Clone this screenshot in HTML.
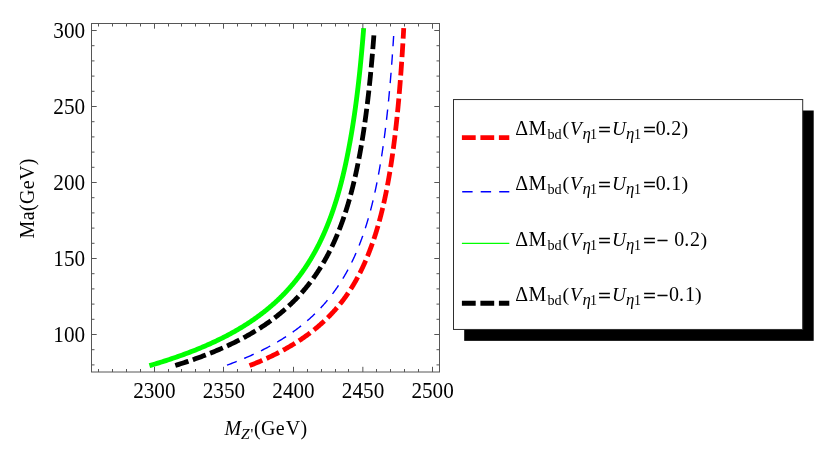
<!DOCTYPE html>
<html><head><meta charset="utf-8"><title>plot</title>
<style>html,body{margin:0;padding:0;background:#fff}body{width:830px;height:455px;overflow:hidden;font-family:"Liberation Serif",serif}</style></head>
<body>
<svg width="830" height="455" viewBox="0 0 830 455" style="display:block;will-change:transform">
<rect x="0" y="0" width="830" height="455" fill="#fff"/>
<path d="M149.42 365.65 L151.35 365.09 L153.25 364.53 L155.14 363.96 L157.00 363.40 L158.83 362.84 L160.65 362.27 L162.44 361.71 L164.22 361.15 L165.97 360.58 L167.70 360.02 L169.41 359.46 L171.11 358.90 L172.78 358.33 L174.44 357.77 L176.07 357.21 L177.69 356.64 L179.29 356.08 L180.87 355.52 L182.43 354.95 L183.97 354.39 L185.50 353.83 L187.01 353.26 L188.51 352.70 L189.98 352.14 L191.45 351.57 L192.89 351.01 L194.32 350.45 L195.73 349.88 L197.13 349.32 L198.51 348.76 L199.88 348.19 L201.24 347.63 L202.57 347.07 L203.90 346.50 L205.21 345.94 L206.51 345.38 L207.79 344.81 L209.06 344.25 L210.31 343.69 L211.56 343.12 L212.78 342.56 L214.00 341.99 L215.20 341.43 L216.40 340.87 L217.58 340.30 L218.74 339.74 L219.90 339.18 L221.04 338.61 L222.17 338.05 L223.29 337.49 L224.40 336.92 L225.50 336.36 L226.58 335.79 L227.66 335.23 L228.72 334.67 L229.78 334.10 L230.82 333.54 L231.85 332.97 L232.87 332.41 L233.89 331.85 L234.89 331.28 L235.88 330.72 L236.86 330.15 L237.84 329.59 L238.80 329.02 L239.75 328.46 L240.70 327.89 L241.63 327.33 L242.56 326.76 L243.47 326.19 L244.38 325.63 L245.28 325.06 L246.17 324.50 L247.06 323.93 L247.93 323.37 L248.80 322.80 L249.65 322.24 L250.50 321.67 L251.34 321.10 L252.18 320.54 L253.00 319.97 L253.82 319.41 L254.63 318.84 L255.44 318.28 L256.23 317.71 L257.02 317.14 L257.80 316.58 L258.58 316.01 L259.34 315.45 L260.10 314.88 L260.86 314.32 L261.60 313.75 L262.34 313.18 L263.07 312.62 L263.80 312.05 L264.52 311.49 L265.23 310.92 L265.94 310.36 L266.64 309.79 L267.34 309.22 L268.02 308.66 L268.71 308.09 L269.38 307.53 L270.05 306.96 L270.72 306.40 L271.38 305.83 L272.03 305.26 L272.68 304.70 L273.32 304.13 L273.96 303.57 L274.59 303.00 L275.21 302.44 L275.83 301.87 L276.45 301.30 L277.06 300.74 L277.66 300.17 L278.26 299.61 L278.85 299.04 L279.44 298.47 L280.02 297.91 L280.60 297.34 L281.18 296.78 L281.75 296.21 L282.31 295.64 L282.87 295.08 L283.42 294.51 L283.97 293.95 L284.52 293.38 L285.06 292.81 L285.60 292.25 L286.13 291.68 L286.66 291.12 L287.18 290.55 L287.70 289.98 L288.22 289.42 L288.73 288.85 L289.24 288.29 L289.74 287.72 L290.24 287.16 L290.73 286.59 L291.22 286.02 L291.71 285.46 L292.19 284.89 L292.67 284.33 L293.15 283.76 L293.62 283.19 L294.09 282.63 L294.55 282.06 L295.01 281.50 L295.47 280.93 L295.92 280.37 L296.37 279.80 L296.82 279.24 L297.26 278.67 L297.70 278.10 L298.14 277.54 L298.57 276.97 L299.00 276.41 L299.43 275.84 L299.85 275.28 L300.27 274.71 L300.69 274.15 L301.10 273.58 L301.51 273.01 L301.92 272.45 L302.32 271.88 L302.72 271.32 L303.12 270.75 L303.52 270.19 L303.91 269.62 L304.30 269.06 L304.68 268.49 L305.07 267.93 L305.45 267.36 L305.82 266.80 L306.20 266.23 L306.57 265.67 L306.94 265.10 L307.31 264.54 L307.67 263.97 L308.03 263.41 L308.39 262.84 L308.75 262.28 L309.10 261.71 L309.45 261.15 L309.80 260.58 L310.15 260.02 L310.49 259.45 L310.83 258.89 L311.17 258.32 L311.51 257.76 L311.84 257.19 L312.17 256.63 L312.50 256.06 L312.83 255.50 L313.15 254.93 L313.47 254.37 L313.79 253.80 L314.11 253.24 L314.43 252.67 L314.74 252.11 L315.05 251.54 L315.36 250.98 L315.67 250.41 L315.97 249.85 L316.27 249.28 L316.57 248.72 L316.87 248.15 L317.17 247.59 L317.46 247.03 L317.75 246.46 L318.04 245.90 L318.33 245.33 L318.62 244.77 L318.90 244.20 L319.19 243.64 L319.47 243.07 L319.75 242.51 L320.02 241.94 L320.30 241.38 L320.57 240.82 L320.84 240.25 L321.11 239.69 L321.38 239.12 L321.64 238.56 L321.91 237.99 L322.17 237.43 L322.43 236.87 L322.69 236.30 L322.95 235.74 L323.20 235.17 L323.46 234.61 L323.71 234.04 L323.96 233.48 L324.21 232.92 L324.45 232.35 L324.70 231.79 L324.94 231.22 L325.19 230.66 L325.43 230.10 L325.67 229.53 L325.90 228.97 L326.14 228.40 L326.38 227.84 L326.61 227.27 L326.84 226.71 L327.07 226.15 L327.30 225.58 L327.53 225.02 L327.75 224.45 L327.98 223.89 L328.20 223.33 L328.42 222.76 L328.64 222.20 L328.86 221.64 L329.08 221.07 L329.30 220.51 L329.51 219.94 L329.72 219.38 L329.94 218.82 L330.15 218.25 L330.36 217.69 L330.57 217.12 L330.77 216.56 L330.98 216.00 L331.18 215.43 L331.39 214.87 L331.59 214.31 L331.79 213.74 L331.99 213.18 L332.19 212.61 L332.38 212.05 L332.58 211.49 L332.77 210.92 L332.97 210.36 L333.16 209.80 L333.35 209.23 L333.54 208.67 L333.73 208.11 L333.92 207.54 L334.11 206.98 L334.29 206.42 L334.48 205.85 L334.66 205.29 L334.84 204.72 L335.02 204.16 L335.20 203.60 L335.38 203.03 L335.56 202.47 L335.74 201.91 L335.91 201.34 L336.09 200.78 L336.26 200.22 L336.44 199.65 L336.61 199.09 L336.78 198.53 L336.95 197.96 L337.12 197.40 L337.29 196.84 L337.45 196.27 L337.62 195.71 L337.78 195.15 L337.95 194.58 L338.11 194.02 L338.27 193.46 L338.43 192.89 L338.60 192.33 L338.76 191.77 L338.91 191.20 L339.07 190.64 L339.23 190.08 L339.38 189.51 L339.54 188.95 L339.69 188.39 L339.85 187.82 L340.00 187.26 L340.15 186.70 L340.30 186.14 L340.45 185.57 L340.60 185.01 L340.75 184.45 L340.90 183.88 L341.04 183.32 L341.19 182.76 L341.33 182.19 L341.48 181.63 L341.62 181.07 L341.76 180.50 L341.91 179.94 L342.05 179.38 L342.19 178.81 L342.33 178.25 L342.47 177.69 L342.60 177.13 L342.74 176.56 L342.88 176.00 L343.01 175.44 L343.15 174.87 L343.28 174.31 L343.42 173.75 L343.55 173.18 L343.68 172.62 L343.81 172.06 L343.95 171.50 L344.08 170.93 L344.20 170.37 L344.33 169.81 L344.46 169.24 L344.59 168.68 L344.72 168.12 L344.84 167.55 L344.97 166.99 L345.09 166.43 L345.22 165.87 L345.34 165.30 L345.46 164.74 L345.58 164.18 L345.71 163.61 L345.83 163.05 L345.95 162.49 L346.07 161.93 L346.18 161.36 L346.30 160.80 L346.42 160.24 L346.54 159.67 L346.65 159.11 L346.77 158.55 L346.89 157.99 L347.00 157.42 L347.11 156.86 L347.23 156.30 L347.34 155.73 L347.45 155.17 L347.57 154.61 L347.68 154.05 L347.79 153.48 L347.90 152.92 L348.01 152.36 L348.12 151.80 L348.22 151.23 L348.33 150.67 L348.44 150.11 L348.55 149.54 L348.66 148.98 L348.77 148.42 L348.87 147.86 L348.98 147.30 L349.09 146.73 L349.19 146.17 L349.30 145.61 L349.40 145.05 L349.51 144.48 L349.61 143.92 L349.72 143.36 L349.82 142.80 L349.92 142.24 L350.03 141.67 L350.13 141.11 L350.23 140.55 L350.33 139.99 L350.43 139.42 L350.53 138.86 L350.63 138.30 L350.73 137.74 L350.83 137.18 L350.92 136.61 L351.02 136.05 L351.12 135.49 L351.22 134.93 L351.31 134.36 L351.41 133.80 L351.50 133.24 L351.60 132.68 L351.69 132.11 L351.79 131.55 L351.88 130.99 L351.97 130.43 L352.06 129.87 L352.16 129.30 L352.25 128.74 L352.34 128.18 L352.43 127.62 L352.52 127.05 L352.61 126.49 L352.70 125.93 L352.79 125.37 L352.88 124.81 L352.97 124.24 L353.05 123.68 L353.14 123.12 L353.23 122.56 L353.32 121.99 L353.40 121.43 L353.49 120.87 L353.57 120.31 L353.66 119.75 L353.74 119.18 L353.83 118.62 L353.91 118.06 L354.00 117.50 L354.08 116.93 L354.16 116.37 L354.25 115.81 L354.33 115.25 L354.41 114.69 L354.49 114.12 L354.57 113.56 L354.65 113.00 L354.73 112.44 L354.81 111.87 L354.89 111.31 L354.97 110.75 L355.05 110.19 L355.13 109.63 L355.21 109.06 L355.29 108.50 L355.36 107.94 L355.44 107.38 L355.52 106.81 L355.59 106.25 L355.67 105.69 L355.75 105.13 L355.82 104.57 L355.90 104.00 L355.97 103.44 L356.05 102.88 L356.12 102.32 L356.20 101.75 L356.27 101.19 L356.34 100.63 L356.42 100.07 L356.49 99.50 L356.56 98.94 L356.63 98.38 L356.70 97.82 L356.78 97.26 L356.85 96.69 L356.92 96.13 L356.99 95.57 L357.06 95.01 L357.13 94.44 L357.20 93.88 L357.27 93.32 L357.34 92.76 L357.41 92.20 L357.47 91.63 L357.54 91.07 L357.61 90.51 L357.68 89.95 L357.75 89.38 L357.81 88.82 L357.88 88.26 L357.95 87.70 L358.01 87.14 L358.08 86.57 L358.14 86.01 L358.21 85.45 L358.27 84.89 L358.34 84.32 L358.40 83.76 L358.47 83.20 L358.53 82.64 L358.60 82.08 L358.66 81.51 L358.72 80.95 L358.79 80.39 L358.85 79.83 L358.91 79.26 L358.97 78.70 L359.04 78.14 L359.10 77.58 L359.16 77.02 L359.22 76.45 L359.28 75.89 L359.34 75.33 L359.40 74.77 L359.46 74.20 L359.52 73.64 L359.58 73.08 L359.64 72.52 L359.70 71.95 L359.76 71.39 L359.82 70.83 L359.88 70.27 L359.94 69.71 L360.00 69.14 L360.05 68.58 L360.11 68.02 L360.17 67.46 L360.23 66.89 L360.28 66.33 L360.34 65.77 L360.40 65.21 L360.45 64.65 L360.51 64.08 L360.56 63.52 L360.62 62.96 L360.68 62.40 L360.73 61.83 L360.79 61.27 L360.84 60.71 L360.89 60.15 L360.95 59.59 L361.00 59.02 L361.06 58.46 L361.11 57.90 L361.16 57.34 L361.22 56.77 L361.27 56.21 L361.32 55.65 L361.38 55.09 L361.43 54.53 L361.48 53.96 L361.53 53.40 L361.59 52.84 L361.64 52.28 L361.69 51.71 L361.74 51.15 L361.79 50.59 L361.84 50.03 L361.89 49.47 L361.94 48.90 L361.99 48.34 L362.04 47.78 L362.09 47.22 L362.14 46.65 L362.19 46.09 L362.24 45.53 L362.29 44.97 L362.34 44.41 L362.39 43.84 L362.44 43.28 L362.49 42.72 L362.53 42.16 L362.58 41.59 L362.63 41.03 L362.68 40.47 L362.73 39.91 L362.77 39.34 L362.82 38.78 L362.87 38.22 L362.91 37.66 L362.96 37.10 L363.01 36.53 L363.05 35.97 L363.10 35.41 L363.15 34.85 L363.19 34.28 L363.24 33.72 L363.28 33.16 L363.33 32.60 L363.37 32.04 L363.42 31.47 L363.46 30.91 L363.51 30.35 L363.55 29.79 L363.60 29.22 L363.64 28.66 L363.69 28.10" fill="none" stroke="#00ff00" stroke-width="4.85"/>
<path d="M175.30 365.46 L177.07 364.91 L178.83 364.36 L180.56 363.81 L182.27 363.26 L183.96 362.71 L185.63 362.15 L187.28 361.60 L188.91 361.05 L190.53 360.50 L192.12 359.95 L193.70 359.40 L195.26 358.84 L196.80 358.29 L198.32 357.74 L199.83 357.19 L201.31 356.64 L202.78 356.09 L204.24 355.53 L205.68 354.98 L207.10 354.43 L208.51 353.88 L209.90 353.33 L211.27 352.78 L212.63 352.22 L213.98 351.67 L215.31 351.12 L216.62 350.57 L217.93 350.02 L219.21 349.47 L220.49 348.91 L221.75 348.36 L222.99 347.81 L224.23 347.26 L225.44 346.71 L226.65 346.16 L227.84 345.60 L229.03 345.05 L230.19 344.50 L231.35 343.95 L232.49 343.40 L233.63 342.85 L234.75 342.29 L235.86 341.74 L236.95 341.19 L238.04 340.64 L239.11 340.09 L240.18 339.54 L241.23 338.98 L242.27 338.43 L243.30 337.88 L244.32 337.33 L245.33 336.78 L246.33 336.23 L247.32 335.67 L248.30 335.12 L249.27 334.57 L250.24 334.02 L251.19 333.47 L252.13 332.91 L253.06 332.36 L253.98 331.81 L254.90 331.26 L255.80 330.71 L256.70 330.16 L257.59 329.60 L258.47 329.05 L259.34 328.50 L260.20 327.95 L261.05 327.40 L261.90 326.85 L262.74 326.29 L263.57 325.74 L264.39 325.19 L265.20 324.64 L266.01 324.09 L266.81 323.54 L267.60 322.98 L268.38 322.43 L269.16 321.88 L269.93 321.33 L270.69 320.78 L271.45 320.23 L272.20 319.67 L272.94 319.12 L273.67 318.57 L274.40 318.02 L275.12 317.47 L275.83 316.92 L276.54 316.36 L277.24 315.81 L277.94 315.26 L278.63 314.71 L279.31 314.16 L279.99 313.61 L280.66 313.05 L281.32 312.50 L281.98 311.95 L282.64 311.40 L283.28 310.85 L283.92 310.30 L284.56 309.74 L285.19 309.19 L285.82 308.64 L286.44 308.09 L287.05 307.54 L287.66 306.99 L288.26 306.43 L288.86 305.88 L289.45 305.33 L290.04 304.78 L290.62 304.23 L291.20 303.68 L291.78 303.12 L292.34 302.57 L292.91 302.02 L293.47 301.47 L294.02 300.92 L294.57 300.37 L295.11 299.81 L295.65 299.26 L296.19 298.71 L296.72 298.16 L297.25 297.61 L297.77 297.05 L298.29 296.50 L298.80 295.95 L299.31 295.40 L299.82 294.85 L300.32 294.30 L300.82 293.74 L301.31 293.19 L301.80 292.64 L302.29 292.09 L302.77 291.54 L303.24 290.99 L303.72 290.43 L304.19 289.88 L304.65 289.33 L305.12 288.78 L305.58 288.23 L306.03 287.68 L306.48 287.12 L306.93 286.57 L307.38 286.02 L307.82 285.47 L308.25 284.92 L308.69 284.37 L309.12 283.81 L309.55 283.26 L309.97 282.71 L310.39 282.16 L310.81 281.61 L311.23 281.06 L311.64 280.50 L312.05 279.95 L312.45 279.40 L312.85 278.85 L313.25 278.30 L313.65 277.75 L314.04 277.19 L314.43 276.64 L314.82 276.09 L315.20 275.54 L315.58 274.99 L315.96 274.44 L316.34 273.88 L316.71 273.33 L317.08 272.78 L317.45 272.23 L317.81 271.68 L318.17 271.13 L318.53 270.57 L318.89 270.02 L319.24 269.47 L319.60 268.92 L319.95 268.37 L320.29 267.82 L320.64 267.26 L320.98 266.71 L321.32 266.16 L321.65 265.61 L321.99 265.06 L322.32 264.50 L322.65 263.95 L322.97 263.40 L323.30 262.85 L323.62 262.30 L323.94 261.75 L324.26 261.19 L324.58 260.64 L324.89 260.09 L325.20 259.54 L325.51 258.99 L325.82 258.44 L326.12 257.88 L326.42 257.33 L326.72 256.78 L327.02 256.23 L327.32 255.68 L327.61 255.13 L327.91 254.57 L328.20 254.02 L328.48 253.47 L328.77 252.92 L329.06 252.37 L329.34 251.82 L329.62 251.26 L329.90 250.71 L330.17 250.16 L330.45 249.61 L330.72 249.06 L330.99 248.51 L331.26 247.95 L331.53 247.40 L331.80 246.85 L332.06 246.30 L332.32 245.75 L332.58 245.20 L332.84 244.64 L333.10 244.09 L333.36 243.54 L333.61 242.99 L333.86 242.44 L334.11 241.89 L334.36 241.33 L334.61 240.78 L334.85 240.23 L335.10 239.68 L335.34 239.13 L335.58 238.58 L335.82 238.02 L336.06 237.47 L336.29 236.92 L336.53 236.37 L336.76 235.82 L336.99 235.27 L337.22 234.71 L337.45 234.16 L337.68 233.61 L337.91 233.06 L338.13 232.51 L338.35 231.95 L338.58 231.40 L338.80 230.85 L339.02 230.30 L339.23 229.75 L339.45 229.20 L339.66 228.64 L339.88 228.09 L340.09 227.54 L340.30 226.99 L340.51 226.44 L340.72 225.89 L340.93 225.33 L341.13 224.78 L341.34 224.23 L341.54 223.68 L341.74 223.13 L341.94 222.58 L342.14 222.02 L342.34 221.47 L342.54 220.92 L342.73 220.37 L342.93 219.82 L343.12 219.27 L343.31 218.71 L343.51 218.16 L343.70 217.61 L343.89 217.06 L344.07 216.51 L344.26 215.96 L344.45 215.40 L344.63 214.85 L344.81 214.30 L345.00 213.75 L345.18 213.20 L345.36 212.65 L345.54 212.09 L345.71 211.54 L345.89 210.99 L346.07 210.44 L346.24 209.89 L346.42 209.34 L346.59 208.78 L346.76 208.23 L346.93 207.68 L347.10 207.13 L347.27 206.58 L347.44 206.03 L347.61 205.47 L347.77 204.92 L347.94 204.37 L348.10 203.82 L348.27 203.27 L348.43 202.72 L348.59 202.16 L348.75 201.61 L348.91 201.06 L349.07 200.51 L349.23 199.96 L349.38 199.40 L349.54 198.85 L349.70 198.30 L349.85 197.75 L350.00 197.20 L350.16 196.65 L350.31 196.09 L350.46 195.54 L350.61 194.99 L350.76 194.44 L350.91 193.89 L351.05 193.34 L351.20 192.78 L351.35 192.23 L351.49 191.68 L351.64 191.13 L351.78 190.58 L351.92 190.03 L352.07 189.47 L352.21 188.92 L352.35 188.37 L352.49 187.82 L352.63 187.27 L352.76 186.72 L352.90 186.16 L353.04 185.61 L353.18 185.06 L353.31 184.51 L353.45 183.96 L353.58 183.41 L353.71 182.85 L353.84 182.30 L353.98 181.75 L354.11 181.20 L354.24 180.65 L354.37 180.10 L354.50 179.54 L354.62 178.99 L354.75 178.44 L354.88 177.89 L355.01 177.34 L355.13 176.79 L355.26 176.23 L355.38 175.68 L355.50 175.13 L355.63 174.58 L355.75 174.03 L355.87 173.48 L355.99 172.92 L356.11 172.37 L356.23 171.82 L356.35 171.27 L356.47 170.72 L356.59 170.17 L356.71 169.61 L356.82 169.06 L356.94 168.51 L357.06 167.96 L357.17 167.41 L357.29 166.85 L357.40 166.30 L357.51 165.75 L357.63 165.20 L357.74 164.65 L357.85 164.10 L357.96 163.54 L358.07 162.99 L358.18 162.44 L358.29 161.89 L358.40 161.34 L358.51 160.79 L358.62 160.23 L358.72 159.68 L358.83 159.13 L358.94 158.58 L359.04 158.03 L359.15 157.48 L359.25 156.92 L359.36 156.37 L359.46 155.82 L359.56 155.27 L359.66 154.72 L359.77 154.17 L359.87 153.61 L359.97 153.06 L360.07 152.51 L360.17 151.96 L360.27 151.41 L360.37 150.86 L360.47 150.30 L360.57 149.75 L360.66 149.20 L360.76 148.65 L360.86 148.10 L360.95 147.55 L361.05 146.99 L361.15 146.44 L361.24 145.89 L361.33 145.34 L361.43 144.79 L361.52 144.24 L361.62 143.68 L361.71 143.13 L361.80 142.58 L361.89 142.03 L361.98 141.48 L362.07 140.93 L362.17 140.37 L362.26 139.82 L362.35 139.27 L362.43 138.72 L362.52 138.17 L362.61 137.62 L362.70 137.06 L362.79 136.51 L362.87 135.96 L362.96 135.41 L363.05 134.86 L363.13 134.30 L363.22 133.75 L363.31 133.20 L363.39 132.65 L363.47 132.10 L363.56 131.55 L363.64 130.99 L363.73 130.44 L363.81 129.89 L363.89 129.34 L363.97 128.79 L364.05 128.24 L364.14 127.68 L364.22 127.13 L364.30 126.58 L364.38 126.03 L364.46 125.48 L364.54 124.93 L364.62 124.37 L364.70 123.82 L364.77 123.27 L364.85 122.72 L364.93 122.17 L365.01 121.62 L365.09 121.06 L365.16 120.51 L365.24 119.96 L365.31 119.41 L365.39 118.86 L365.47 118.31 L365.54 117.75 L365.62 117.20 L365.69 116.65 L365.76 116.10 L365.84 115.55 L365.91 115.00 L365.98 114.44 L366.06 113.89 L366.13 113.34 L366.20 112.79 L366.27 112.24 L366.35 111.69 L366.42 111.13 L366.49 110.58 L366.56 110.03 L366.63 109.48 L366.70 108.93 L366.77 108.38 L366.84 107.82 L366.91 107.27 L366.98 106.72 L367.04 106.17 L367.11 105.62 L367.18 105.07 L367.25 104.51 L367.32 103.96 L367.38 103.41 L367.45 102.86 L367.52 102.31 L367.58 101.76 L367.65 101.20 L367.71 100.65 L367.78 100.10 L367.84 99.55 L367.91 99.00 L367.97 98.44 L368.04 97.89 L368.10 97.34 L368.17 96.79 L368.23 96.24 L368.29 95.69 L368.36 95.13 L368.42 94.58 L368.48 94.03 L368.54 93.48 L368.61 92.93 L368.67 92.38 L368.73 91.82 L368.79 91.27 L368.85 90.72 L368.91 90.17 L368.97 89.62 L369.03 89.07 L369.09 88.51 L369.15 87.96 L369.21 87.41 L369.27 86.86 L369.33 86.31 L369.39 85.76 L369.45 85.20 L369.50 84.65 L369.56 84.10 L369.62 83.55 L369.68 83.00 L369.73 82.45 L369.79 81.89 L369.85 81.34 L369.91 80.79 L369.96 80.24 L370.02 79.69 L370.07 79.14 L370.13 78.58 L370.18 78.03 L370.24 77.48 L370.29 76.93 L370.35 76.38 L370.40 75.83 L370.46 75.27 L370.51 74.72 L370.57 74.17 L370.62 73.62 L370.67 73.07 L370.73 72.52 L370.78 71.96 L370.83 71.41 L370.89 70.86 L370.94 70.31 L370.99 69.76 L371.04 69.21 L371.09 68.65 L371.15 68.10 L371.20 67.55 L371.25 67.00 L371.30 66.45 L371.35 65.89 L371.40 65.34 L371.45 64.79 L371.50 64.24 L371.55 63.69 L371.60 63.14 L371.65 62.58 L371.70 62.03 L371.75 61.48 L371.80 60.93 L371.85 60.38 L371.90 59.83 L371.95 59.27 L371.99 58.72 L372.04 58.17 L372.09 57.62 L372.14 57.07 L372.19 56.52 L372.23 55.96 L372.28 55.41 L372.33 54.86 L372.37 54.31 L372.42 53.76 L372.47 53.21 L372.51 52.65 L372.56 52.10 L372.61 51.55 L372.65 51.00 L372.70 50.45 L372.74 49.90 L372.79 49.34 L372.83 48.79 L372.88 48.24 L372.92 47.69 L372.97 47.14 L373.01 46.59 L373.06 46.03 L373.10 45.48 L373.15 44.93 L373.19 44.38 L373.23 43.83 L373.28 43.28 L373.32 42.72 L373.36 42.17 L373.41 41.62 L373.45 41.07 L373.49 40.52 L373.54 39.97 L373.58 39.41 L373.62 38.86 L373.66 38.31 L373.70 37.76 L373.75 37.21 L373.79 36.66 L373.83 36.10 L373.87 35.55 L373.91 35.00" fill="none" stroke="#000000" stroke-width="4.8" stroke-dasharray="13.8 4.645"/>
<path d="M227.00 365.15 L228.50 364.60 L229.99 364.05 L231.46 363.50 L232.90 362.95 L234.34 362.40 L235.75 361.85 L237.15 361.30 L238.53 360.75 L239.90 360.20 L241.25 359.65 L242.58 359.10 L243.90 358.55 L245.20 358.00 L246.49 357.45 L247.76 356.90 L249.02 356.35 L250.26 355.80 L251.49 355.25 L252.71 354.70 L253.91 354.15 L255.10 353.60 L256.27 353.05 L257.43 352.50 L258.58 351.95 L259.72 351.40 L260.84 350.85 L261.95 350.30 L263.05 349.75 L264.13 349.20 L265.21 348.65 L266.27 348.10 L267.32 347.55 L268.36 347.00 L269.39 346.45 L270.41 345.90 L271.41 345.35 L272.41 344.80 L273.39 344.25 L274.37 343.70 L275.33 343.15 L276.28 342.60 L277.23 342.05 L278.16 341.50 L279.08 340.95 L280.00 340.40 L280.90 339.85 L281.80 339.30 L282.68 338.75 L283.56 338.20 L284.43 337.65 L285.29 337.10 L286.14 336.55 L286.98 336.00 L287.81 335.45 L288.64 334.90 L289.45 334.35 L290.26 333.80 L291.06 333.25 L291.85 332.70 L292.64 332.15 L293.41 331.60 L294.18 331.05 L294.94 330.50 L295.70 329.95 L296.44 329.40 L297.18 328.85 L297.91 328.30 L298.64 327.75 L299.35 327.20 L300.06 326.65 L300.77 326.10 L301.46 325.55 L302.15 325.00 L302.84 324.45 L303.51 323.90 L304.18 323.35 L304.85 322.80 L305.51 322.25 L306.16 321.70 L306.80 321.15 L307.44 320.60 L308.08 320.05 L308.71 319.50 L309.33 318.95 L309.94 318.40 L310.55 317.85 L311.16 317.30 L311.76 316.75 L312.35 316.20 L312.94 315.65 L313.52 315.10 L314.10 314.55 L314.67 314.00 L315.24 313.45 L315.80 312.90 L316.36 312.35 L316.91 311.80 L317.46 311.25 L318.00 310.70 L318.54 310.15 L319.07 309.60 L319.60 309.05 L320.12 308.50 L320.64 307.95 L321.16 307.40 L321.67 306.85 L322.17 306.30 L322.67 305.75 L323.17 305.20 L323.66 304.65 L324.15 304.10 L324.64 303.55 L325.12 303.00 L325.59 302.45 L326.06 301.90 L326.53 301.35 L327.00 300.80 L327.46 300.25 L327.91 299.70 L328.36 299.15 L328.81 298.60 L329.26 298.05 L329.70 297.50 L330.14 296.95 L330.57 296.40 L331.00 295.85 L331.43 295.30 L331.85 294.75 L332.27 294.20 L332.68 293.65 L333.10 293.10 L333.51 292.55 L333.91 292.00 L334.32 291.45 L334.72 290.90 L335.11 290.35 L335.50 289.80 L335.89 289.25 L336.28 288.70 L336.67 288.15 L337.05 287.60 L337.42 287.05 L337.80 286.50 L338.17 285.95 L338.54 285.40 L338.91 284.85 L339.27 284.30 L339.63 283.75 L339.99 283.20 L340.34 282.65 L340.69 282.10 L341.04 281.55 L341.39 281.00 L341.73 280.45 L342.07 279.90 L342.41 279.35 L342.75 278.80 L343.08 278.25 L343.41 277.70 L343.74 277.15 L344.07 276.60 L344.39 276.05 L344.71 275.50 L345.03 274.95 L345.35 274.40 L345.66 273.85 L345.97 273.30 L346.28 272.75 L346.59 272.20 L346.89 271.65 L347.20 271.10 L347.50 270.55 L347.79 270.00 L348.09 269.45 L348.38 268.90 L348.67 268.35 L348.96 267.80 L349.25 267.25 L349.54 266.70 L349.82 266.15 L350.10 265.60 L350.38 265.05 L350.66 264.50 L350.93 263.95 L351.20 263.40 L351.48 262.85 L351.75 262.30 L352.01 261.75 L352.28 261.20 L352.54 260.65 L352.80 260.10 L353.06 259.55 L353.32 259.00 L353.58 258.45 L353.83 257.90 L354.08 257.35 L354.34 256.80 L354.58 256.25 L354.83 255.70 L355.08 255.15 L355.32 254.60 L355.56 254.05 L355.80 253.50 L356.04 252.95 L356.28 252.40 L356.52 251.85 L356.75 251.30 L356.98 250.75 L357.21 250.20 L357.44 249.65 L357.67 249.10 L357.90 248.55 L358.12 248.00 L358.35 247.45 L358.57 246.90 L358.79 246.35 L359.01 245.80 L359.23 245.25 L359.44 244.70 L359.66 244.15 L359.87 243.60 L360.08 243.05 L360.29 242.50 L360.50 241.95 L360.71 241.40 L360.91 240.85 L361.12 240.30 L361.32 239.75 L361.53 239.20 L361.73 238.65 L361.93 238.10 L362.12 237.55 L362.32 237.00 L362.52 236.45 L362.71 235.90 L362.91 235.35 L363.10 234.80 L363.29 234.25 L363.48 233.70 L363.67 233.15 L363.85 232.60 L364.04 232.05 L364.22 231.50 L364.41 230.95 L364.59 230.40 L364.77 229.85 L364.95 229.30 L365.13 228.75 L365.31 228.20 L365.49 227.65 L365.66 227.10 L365.84 226.55 L366.01 226.00 L366.18 225.45 L366.36 224.90 L366.53 224.35 L366.70 223.80 L366.86 223.25 L367.03 222.70 L367.20 222.15 L367.36 221.60 L367.53 221.05 L367.69 220.50 L367.85 219.95 L368.02 219.40 L368.18 218.85 L368.34 218.30 L368.49 217.75 L368.65 217.20 L368.81 216.65 L368.96 216.10 L369.12 215.55 L369.27 215.00 L369.43 214.45 L369.58 213.90 L369.73 213.35 L369.88 212.80 L370.03 212.25 L370.18 211.70 L370.32 211.15 L370.47 210.60 L370.62 210.05 L370.76 209.50 L370.91 208.95 L371.05 208.40 L371.19 207.85 L371.33 207.30 L371.47 206.75 L371.61 206.20 L371.75 205.65 L371.89 205.10 L372.03 204.55 L372.17 204.00 L372.30 203.45 L372.44 202.90 L372.57 202.35 L372.71 201.80 L372.84 201.25 L372.97 200.70 L373.10 200.15 L373.24 199.60 L373.37 199.05 L373.49 198.50 L373.62 197.95 L373.75 197.40 L373.88 196.85 L374.00 196.30 L374.13 195.75 L374.26 195.20 L374.38 194.65 L374.50 194.10 L374.63 193.55 L374.75 193.00 L374.87 192.45 L374.99 191.90 L375.11 191.35 L375.23 190.80 L375.35 190.25 L375.47 189.70 L375.59 189.15 L375.70 188.60 L375.82 188.05 L375.94 187.50 L376.05 186.95 L376.17 186.40 L376.28 185.85 L376.39 185.30 L376.51 184.75 L376.62 184.20 L376.73 183.65 L376.84 183.10 L376.95 182.55 L377.06 182.00 L377.17 181.45 L377.28 180.90 L377.39 180.35 L377.49 179.80 L377.60 179.25 L377.71 178.70 L377.81 178.15 L377.92 177.60 L378.02 177.05 L378.13 176.50 L378.23 175.95 L378.33 175.40 L378.44 174.85 L378.54 174.30 L378.64 173.75 L378.74 173.20 L378.84 172.65 L378.94 172.10 L379.04 171.55 L379.14 171.00 L379.24 170.45 L379.34 169.90 L379.43 169.35 L379.53 168.80 L379.63 168.25 L379.72 167.70 L379.82 167.15 L379.91 166.60 L380.01 166.05 L380.10 165.50 L380.19 164.95 L380.29 164.40 L380.38 163.85 L380.47 163.30 L380.56 162.75 L380.66 162.20 L380.75 161.65 L380.84 161.10 L380.93 160.55 L381.02 160.00 L381.10 159.45 L381.19 158.90 L381.28 158.35 L381.37 157.80 L381.46 157.25 L381.54 156.70 L381.63 156.15 L381.71 155.60 L381.80 155.05 L381.88 154.50 L381.97 153.95 L382.05 153.40 L382.14 152.85 L382.22 152.30 L382.30 151.75 L382.39 151.20 L382.47 150.65 L382.55 150.10 L382.63 149.55 L382.71 149.00 L382.79 148.45 L382.87 147.90 L382.95 147.35 L383.03 146.80 L383.11 146.25 L383.19 145.70 L383.27 145.15 L383.35 144.60 L383.42 144.05 L383.50 143.50 L383.58 142.95 L383.66 142.40 L383.73 141.85 L383.81 141.30 L383.88 140.75 L383.96 140.20 L384.03 139.65 L384.11 139.10 L384.18 138.55 L384.25 138.00 L384.33 137.45 L384.40 136.90 L384.47 136.35 L384.55 135.80 L384.62 135.25 L384.69 134.70 L384.76 134.15 L384.83 133.60 L384.90 133.05 L384.97 132.50 L385.04 131.95 L385.11 131.40 L385.18 130.85 L385.25 130.30 L385.32 129.75 L385.39 129.20 L385.46 128.65 L385.52 128.10 L385.59 127.55 L385.66 127.00 L385.73 126.45 L385.79 125.90 L385.86 125.35 L385.92 124.80 L385.99 124.25 L386.06 123.70 L386.12 123.15 L386.19 122.60 L386.25 122.05 L386.31 121.50 L386.38 120.95 L386.44 120.40 L386.50 119.85 L386.57 119.30 L386.63 118.75 L386.69 118.20 L386.76 117.65 L386.82 117.10 L386.88 116.55 L386.94 116.00 L387.00 115.45 L387.06 114.90 L387.12 114.35 L387.18 113.80 L387.24 113.25 L387.30 112.70 L387.36 112.15 L387.42 111.60 L387.48 111.05 L387.54 110.50 L387.60 109.95 L387.66 109.40 L387.72 108.85 L387.77 108.30 L387.83 107.75 L387.89 107.20 L387.95 106.65 L388.00 106.10 L388.06 105.55 L388.12 105.00 L388.17 104.45 L388.23 103.90 L388.28 103.35 L388.34 102.80 L388.39 102.25 L388.45 101.70 L388.50 101.15 L388.56 100.60 L388.61 100.05 L388.67 99.50 L388.72 98.95 L388.77 98.40 L388.83 97.85 L388.88 97.30 L388.93 96.75 L388.98 96.20 L389.04 95.65 L389.09 95.10 L389.14 94.55 L389.19 94.00 L389.24 93.45 L389.30 92.90 L389.35 92.35 L389.40 91.80 L389.45 91.25 L389.50 90.70 L389.55 90.15 L389.60 89.60 L389.65 89.05 L389.70 88.50 L389.75 87.95 L389.80 87.40 L389.85 86.85 L389.90 86.30 L389.94 85.75 L389.99 85.20 L390.04 84.65 L390.09 84.10 L390.14 83.55 L390.19 83.00 L390.23 82.45 L390.28 81.90 L390.33 81.35 L390.37 80.80 L390.42 80.25 L390.47 79.70 L390.51 79.15 L390.56 78.60 L390.61 78.05 L390.65 77.50 L390.70 76.95 L390.74 76.40 L390.79 75.85 L390.83 75.30 L390.88 74.75 L390.92 74.20 L390.97 73.65 L391.01 73.10 L391.06 72.55 L391.10 72.00 L391.14 71.45 L391.19 70.90 L391.23 70.35 L391.27 69.80 L391.32 69.25 L391.36 68.70 L391.40 68.15 L391.45 67.60 L391.49 67.05 L391.53 66.50 L391.57 65.95 L391.61 65.40 L391.66 64.85 L391.70 64.30 L391.74 63.75 L391.78 63.20 L391.82 62.65 L391.86 62.10 L391.90 61.55 L391.95 61.00 L391.99 60.45 L392.03 59.90 L392.07 59.35 L392.11 58.80 L392.15 58.25 L392.19 57.70 L392.23 57.15 L392.27 56.60 L392.30 56.05 L392.34 55.50 L392.38 54.95 L392.42 54.40 L392.46 53.85 L392.50 53.30 L392.54 52.75 L392.58 52.20 L392.61 51.65 L392.65 51.10 L392.69 50.55 L392.73 50.00 L392.77 49.45 L392.80 48.90 L392.84 48.35 L392.88 47.80 L392.91 47.25 L392.95 46.70 L392.99 46.15 L393.03 45.60 L393.06 45.05 L393.10 44.50 L393.13 43.95 L393.17 43.40 L393.21 42.85 L393.24 42.30 L393.28 41.75 L393.31 41.20 L393.35 40.65 L393.38 40.10 L393.42 39.55 L393.45 39.00 L393.49 38.45 L393.52 37.90 L393.56 37.35 L393.59 36.80 L393.63 36.25 L393.66 35.70" fill="none" stroke="#0000ff" stroke-width="1.4" stroke-dasharray="10.4 8.045"/>
<path d="M249.55 365.64 L250.98 365.07 L252.39 364.51 L253.79 363.95 L255.17 363.38 L256.53 362.82 L257.87 362.26 L259.20 361.69 L260.51 361.13 L261.81 360.57 L263.09 360.00 L264.36 359.44 L265.61 358.87 L266.84 358.31 L268.06 357.75 L269.27 357.18 L270.46 356.62 L271.64 356.06 L272.80 355.49 L273.95 354.93 L275.09 354.37 L276.21 353.80 L277.32 353.24 L278.42 352.67 L279.50 352.11 L280.58 351.55 L281.64 350.98 L282.69 350.42 L283.72 349.86 L284.75 349.29 L285.76 348.73 L286.76 348.16 L287.75 347.60 L288.73 347.04 L289.70 346.47 L290.66 345.91 L291.60 345.34 L292.54 344.78 L293.47 344.22 L294.38 343.65 L295.29 343.09 L296.18 342.52 L297.07 341.96 L297.95 341.40 L298.82 340.83 L299.67 340.27 L300.52 339.71 L301.36 339.14 L302.20 338.58 L303.02 338.01 L303.83 337.45 L304.64 336.89 L305.43 336.32 L306.22 335.76 L307.00 335.19 L307.77 334.63 L308.54 334.06 L309.30 333.50 L310.04 332.94 L310.78 332.37 L311.52 331.81 L312.24 331.24 L312.96 330.68 L313.67 330.12 L314.38 329.55 L315.07 328.99 L315.76 328.42 L316.45 327.86 L317.12 327.30 L317.79 326.73 L318.46 326.17 L319.11 325.60 L319.76 325.04 L320.41 324.47 L321.04 323.91 L321.67 323.35 L322.30 322.78 L322.92 322.22 L323.53 321.65 L324.14 321.09 L324.74 320.53 L325.34 319.96 L325.92 319.40 L326.51 318.83 L327.09 318.27 L327.66 317.70 L328.23 317.14 L328.79 316.58 L329.35 316.01 L329.90 315.45 L330.45 314.88 L330.99 314.32 L331.52 313.76 L332.06 313.19 L332.58 312.63 L333.11 312.06 L333.62 311.50 L334.13 310.93 L334.64 310.37 L335.15 309.81 L335.64 309.24 L336.14 308.68 L336.63 308.11 L337.11 307.55 L337.59 306.98 L338.07 306.42 L338.54 305.86 L339.01 305.29 L339.48 304.73 L339.94 304.16 L340.39 303.60 L340.84 303.03 L341.29 302.47 L341.73 301.91 L342.18 301.34 L342.61 300.78 L343.04 300.21 L343.47 299.65 L343.89 299.08 L344.31 298.51 L344.72 297.95 L345.13 297.38 L345.54 296.81 L345.94 296.25 L346.34 295.68 L346.74 295.11 L347.13 294.55 L347.52 293.98 L347.91 293.41 L348.29 292.85 L348.67 292.28 L349.05 291.71 L349.42 291.15 L349.79 290.58 L350.16 290.01 L350.53 289.45 L350.89 288.88 L351.24 288.31 L351.60 287.75 L351.95 287.18 L352.30 286.62 L352.65 286.05 L352.99 285.48 L353.33 284.92 L353.67 284.35 L354.01 283.79 L354.34 283.22 L354.67 282.65 L355.00 282.09 L355.32 281.52 L355.64 280.96 L355.96 280.39 L356.28 279.82 L356.59 279.26 L356.90 278.69 L357.21 278.13 L357.52 277.56 L357.83 277.00 L358.13 276.43 L358.43 275.86 L358.72 275.30 L359.02 274.73 L359.31 274.17 L359.60 273.60 L359.89 273.04 L360.18 272.47 L360.46 271.91 L360.74 271.34 L361.02 270.78 L361.30 270.21 L361.57 269.64 L361.84 269.08 L362.12 268.51 L362.38 267.95 L362.65 267.38 L362.92 266.82 L363.18 266.25 L363.44 265.69 L363.70 265.12 L363.95 264.56 L364.21 263.99 L364.46 263.43 L364.71 262.86 L364.96 262.30 L365.21 261.73 L365.45 261.17 L365.70 260.60 L365.94 260.04 L366.18 259.47 L366.42 258.91 L366.65 258.34 L366.89 257.78 L367.12 257.21 L367.35 256.65 L367.58 256.08 L367.81 255.52 L368.04 254.96 L368.26 254.39 L368.48 253.83 L368.71 253.26 L368.93 252.70 L369.14 252.13 L369.36 251.57 L369.58 251.00 L369.79 250.44 L370.00 249.87 L370.22 249.31 L370.43 248.75 L370.64 248.19 L370.85 247.62 L371.06 247.06 L371.27 246.50 L371.48 245.93 L371.68 245.37 L371.88 244.81 L372.09 244.25 L372.29 243.68 L372.49 243.12 L372.68 242.56 L372.88 241.99 L373.08 241.43 L373.27 240.87 L373.46 240.31 L373.65 239.74 L373.84 239.18 L374.03 238.62 L374.22 238.05 L374.41 237.49 L374.59 236.93 L374.78 236.37 L374.96 235.80 L375.14 235.24 L375.32 234.68 L375.50 234.11 L375.68 233.55 L375.85 232.99 L376.03 232.43 L376.20 231.86 L376.38 231.30 L376.55 230.74 L376.72 230.17 L376.89 229.61 L377.06 229.05 L377.23 228.49 L377.39 227.92 L377.56 227.36 L377.72 226.80 L377.89 226.23 L378.05 225.67 L378.21 225.11 L378.37 224.55 L378.53 223.98 L378.69 223.42 L378.85 222.86 L379.01 222.29 L379.16 221.73 L379.32 221.17 L379.47 220.60 L379.62 220.04 L379.77 219.48 L379.92 218.92 L380.07 218.35 L380.22 217.79 L380.37 217.23 L380.52 216.66 L380.66 216.10 L380.81 215.54 L380.95 214.98 L381.10 214.41 L381.24 213.85 L381.38 213.29 L381.52 212.72 L381.66 212.16 L381.80 211.60 L381.94 211.04 L382.08 210.47 L382.22 209.91 L382.35 209.35 L382.49 208.78 L382.62 208.22 L382.76 207.66 L382.89 207.10 L383.02 206.53 L383.15 205.97 L383.28 205.41 L383.41 204.84 L383.54 204.28 L383.67 203.72 L383.80 203.16 L383.92 202.59 L384.05 202.03 L384.17 201.47 L384.30 200.90 L384.42 200.34 L384.55 199.78 L384.67 199.22 L384.79 198.65 L384.91 198.09 L385.03 197.53 L385.15 196.96 L385.27 196.40 L385.39 195.84 L385.51 195.28 L385.62 194.71 L385.74 194.15 L385.85 193.59 L385.97 193.02 L386.08 192.46 L386.20 191.90 L386.31 191.34 L386.42 190.77 L386.53 190.21 L386.65 189.65 L386.76 189.08 L386.87 188.52 L386.97 187.96 L387.08 187.39 L387.19 186.83 L387.30 186.27 L387.41 185.71 L387.51 185.14 L387.62 184.58 L387.72 184.02 L387.83 183.45 L387.93 182.89 L388.03 182.33 L388.14 181.77 L388.24 181.20 L388.34 180.64 L388.44 180.08 L388.54 179.51 L388.64 178.95 L388.74 178.39 L388.84 177.83 L388.94 177.26 L389.04 176.70 L389.14 176.14 L389.23 175.57 L389.33 175.01 L389.43 174.45 L389.52 173.89 L389.62 173.32 L389.71 172.76 L389.80 172.20 L389.90 171.63 L389.99 171.07 L390.08 170.51 L390.17 169.95 L390.27 169.38 L390.36 168.82 L390.45 168.26 L390.54 167.69 L390.63 167.13 L390.72 166.57 L390.80 166.01 L390.89 165.44 L390.98 164.88 L391.07 164.32 L391.15 163.75 L391.24 163.19 L391.33 162.63 L391.41 162.07 L391.50 161.50 L391.58 160.94 L391.66 160.38 L391.75 159.81 L391.83 159.25 L391.91 158.69 L392.00 158.13 L392.08 157.56 L392.16 157.00 L392.24 156.44 L392.32 155.87 L392.40 155.31 L392.48 154.75 L392.56 154.19 L392.64 153.62 L392.72 153.06 L392.80 152.50 L392.88 151.93 L392.95 151.37 L393.03 150.81 L393.11 150.24 L393.19 149.68 L393.26 149.12 L393.34 148.56 L393.41 147.99 L393.49 147.43 L393.56 146.87 L393.64 146.30 L393.71 145.74 L393.78 145.18 L393.86 144.62 L393.93 144.05 L394.00 143.49 L394.07 142.93 L394.15 142.36 L394.22 141.80 L394.29 141.24 L394.36 140.68 L394.43 140.11 L394.50 139.55 L394.57 138.99 L394.64 138.42 L394.71 137.86 L394.78 137.30 L394.84 136.74 L394.91 136.17 L394.98 135.61 L395.05 135.05 L395.12 134.48 L395.18 133.92 L395.25 133.36 L395.31 132.80 L395.38 132.23 L395.45 131.67 L395.51 131.11 L395.58 130.54 L395.64 129.98 L395.70 129.42 L395.77 128.86 L395.83 128.29 L395.90 127.73 L395.96 127.17 L396.02 126.60 L396.08 126.04 L396.15 125.48 L396.21 124.92 L396.27 124.35 L396.33 123.79 L396.39 123.23 L396.45 122.66 L396.51 122.10 L396.57 121.54 L396.63 120.98 L396.69 120.41 L396.75 119.85 L396.81 119.29 L396.87 118.72 L396.93 118.16 L396.99 117.60 L397.05 117.03 L397.10 116.47 L397.16 115.91 L397.22 115.35 L397.28 114.78 L397.33 114.22 L397.39 113.66 L397.45 113.09 L397.50 112.53 L397.56 111.97 L397.61 111.41 L397.67 110.84 L397.72 110.28 L397.78 109.72 L397.83 109.15 L397.89 108.59 L397.94 108.03 L398.00 107.47 L398.05 106.90 L398.10 106.34 L398.16 105.78 L398.21 105.21 L398.26 104.65 L398.31 104.09 L398.37 103.53 L398.42 102.96 L398.47 102.40 L398.52 101.84 L398.57 101.27 L398.62 100.71 L398.68 100.15 L398.73 99.59 L398.78 99.02 L398.83 98.46 L398.88 97.90 L398.93 97.33 L398.98 96.77 L399.03 96.21 L399.07 95.65 L399.12 95.08 L399.17 94.52 L399.22 93.96 L399.27 93.39 L399.32 92.83 L399.37 92.27 L399.41 91.71 L399.46 91.14 L399.51 90.58 L399.55 90.02 L399.60 89.45 L399.65 88.89 L399.70 88.33 L399.74 87.77 L399.79 87.20 L399.83 86.64 L399.88 86.08 L399.92 85.51 L399.97 84.95 L400.02 84.39 L400.06 83.83 L400.11 83.26 L400.15 82.70 L400.19 82.14 L400.24 81.57 L400.28 81.01 L400.33 80.45 L400.37 79.88 L400.41 79.32 L400.46 78.76 L400.50 78.20 L400.54 77.63 L400.59 77.07 L400.63 76.51 L400.67 75.94 L400.71 75.38 L400.76 74.82 L400.80 74.26 L400.84 73.69 L400.88 73.13 L400.92 72.57 L400.96 72.00 L401.01 71.44 L401.05 70.88 L401.09 70.32 L401.13 69.75 L401.17 69.19 L401.21 68.63 L401.25 68.06 L401.29 67.50 L401.33 66.94 L401.37 66.38 L401.41 65.81 L401.45 65.25 L401.49 64.69 L401.52 64.12 L401.56 63.56 L401.60 63.00 L401.64 62.44 L401.68 61.87 L401.72 61.31 L401.76 60.75 L401.79 60.18 L401.83 59.62 L401.87 59.06 L401.91 58.50 L401.94 57.93 L401.98 57.37 L402.02 56.81 L402.06 56.24 L402.09 55.68 L402.13 55.12 L402.17 54.56 L402.20 53.99 L402.24 53.43 L402.27 52.87 L402.31 52.30 L402.35 51.74 L402.38 51.18 L402.42 50.62 L402.45 50.05 L402.49 49.49 L402.52 48.93 L402.56 48.36 L402.59 47.80 L402.63 47.24 L402.66 46.68 L402.70 46.11 L402.73 45.55 L402.77 44.99 L402.80 44.42 L402.83 43.86 L402.87 43.30 L402.90 42.73 L402.93 42.17 L402.97 41.61 L403.00 41.05 L403.03 40.48 L403.07 39.92 L403.10 39.36 L403.13 38.79 L403.17 38.23 L403.20 37.67 L403.23 37.11 L403.26 36.54 L403.30 35.98 L403.33 35.42 L403.36 34.85 L403.39 34.29 L403.42 33.73 L403.46 33.17 L403.49 32.60 L403.52 32.04 L403.55 31.48 L403.58 30.91 L403.61 30.35 L403.64 29.79 L403.67 29.23 L403.70 28.66 L403.73 28.10" fill="none" stroke="#ff0000" stroke-width="4.8" stroke-dasharray="13.8 4.65"/>
<rect x="91.5" y="23.5" width="348.0" height="348.5" fill="none" stroke="#565656" stroke-width="1"/>
<path d="M98.50 372.0 v-3.0 M98.50 23.5 v3.0 M112.50 372.0 v-3.0 M112.50 23.5 v3.0 M126.50 372.0 v-3.0 M126.50 23.5 v3.0 M140.50 372.0 v-3.0 M140.50 23.5 v3.0 M154.50 372.0 v-5.2 M154.50 23.5 v5.2 M168.50 372.0 v-3.0 M168.50 23.5 v3.0 M181.50 372.0 v-3.0 M181.50 23.5 v3.0 M195.50 372.0 v-3.0 M195.50 23.5 v3.0 M209.50 372.0 v-3.0 M209.50 23.5 v3.0 M223.50 372.0 v-5.2 M223.50 23.5 v5.2 M237.50 372.0 v-3.0 M237.50 23.5 v3.0 M251.50 372.0 v-3.0 M251.50 23.5 v3.0 M265.50 372.0 v-3.0 M265.50 23.5 v3.0 M279.50 372.0 v-3.0 M279.50 23.5 v3.0 M293.50 372.0 v-5.2 M293.50 23.5 v5.2 M307.50 372.0 v-3.0 M307.50 23.5 v3.0 M321.50 372.0 v-3.0 M321.50 23.5 v3.0 M335.50 372.0 v-3.0 M335.50 23.5 v3.0 M348.50 372.0 v-3.0 M348.50 23.5 v3.0 M362.85 372.0 v-5.2 M362.85 23.5 v5.2 M376.50 372.0 v-3.0 M376.50 23.5 v3.0 M390.50 372.0 v-3.0 M390.50 23.5 v3.0 M404.50 372.0 v-3.0 M404.50 23.5 v3.0 M418.50 372.0 v-3.0 M418.50 23.5 v3.0 M432.50 372.0 v-5.2 M432.50 23.5 v5.2 M91.5 364.90 h3.0 M439.5 364.90 h-3.0 M91.5 349.70 h3.0 M439.5 349.70 h-3.0 M91.5 334.50 h5.2 M439.5 334.50 h-5.2 M91.5 319.30 h3.0 M439.5 319.30 h-3.0 M91.5 304.10 h3.0 M439.5 304.10 h-3.0 M91.5 288.90 h3.0 M439.5 288.90 h-3.0 M91.5 273.70 h3.0 M439.5 273.70 h-3.0 M91.5 258.50 h5.2 M439.5 258.50 h-5.2 M91.5 243.30 h3.0 M439.5 243.30 h-3.0 M91.5 228.10 h3.0 M439.5 228.10 h-3.0 M91.5 212.90 h3.0 M439.5 212.90 h-3.0 M91.5 197.70 h3.0 M439.5 197.70 h-3.0 M91.5 182.50 h5.2 M439.5 182.50 h-5.2 M91.5 167.30 h3.0 M439.5 167.30 h-3.0 M91.5 152.10 h3.0 M439.5 152.10 h-3.0 M91.5 136.90 h3.0 M439.5 136.90 h-3.0 M91.5 121.70 h3.0 M439.5 121.70 h-3.0 M91.5 106.50 h5.2 M439.5 106.50 h-5.2 M91.5 91.30 h3.0 M439.5 91.30 h-3.0 M91.5 76.10 h3.0 M439.5 76.10 h-3.0 M91.5 60.90 h3.0 M439.5 60.90 h-3.0 M91.5 45.70 h3.0 M439.5 45.70 h-3.0 M91.5 30.50 h5.2 M439.5 30.50 h-5.2" fill="none" stroke="#565656" stroke-width="1"/>
<g font-family="Liberation Serif, serif" font-size="20" fill="#000">
<text transform="translate(154.32 397.6) scale(1 1.04)" text-anchor="middle" font-size="21.2">2300</text>
<text transform="translate(223.89 397.6) scale(1 1.04)" text-anchor="middle" font-size="21.2">2350</text>
<text transform="translate(293.47 397.6) scale(1 1.04)" text-anchor="middle" font-size="21.2">2400</text>
<text transform="translate(363.05 397.6) scale(1 1.04)" text-anchor="middle" font-size="21.2">2450</text>
<text transform="translate(432.62 397.6) scale(1 1.04)" text-anchor="middle" font-size="21.2">2500</text>
<text transform="translate(85.1 341.80) scale(1 1.04)" text-anchor="end" font-size="21.2">100</text>
<text transform="translate(85.1 265.80) scale(1 1.04)" text-anchor="end" font-size="21.2">150</text>
<text transform="translate(85.1 189.80) scale(1 1.04)" text-anchor="end" font-size="21.2">200</text>
<text transform="translate(85.1 113.80) scale(1 1.04)" text-anchor="end" font-size="21.2">250</text>
<text transform="translate(85.1 37.80) scale(1 1.04)" text-anchor="end" font-size="21.2">300</text>
<text transform="translate(34.1 238.4) rotate(-90)" x="0" y="0" letter-spacing="0.33">Ma(GeV)</text>
<text x="224.4" y="434.8" font-style="italic">M</text>
<text x="241.1" y="438.6" font-style="italic" font-size="15.4">Z</text>
<text x="250.6" y="438.6" font-size="15.4">'</text>
<text x="254.0 261.1 275.8 285.7 300.4" y="434.8">(GeV)</text>
</g>
<rect x="464.2" y="110.5" width="349.5" height="230.35" fill="#000"/>
<rect x="453.5" y="99.55" width="349.2" height="229.9" fill="#fff" stroke="#2e2e2e" stroke-width="1"/>
<g font-family="Liberation Serif, serif" font-size="20" fill="#000">
<path d="M461.9 137.6 H509.3" stroke="#ff0000" stroke-width="4.8" stroke-dasharray="13.8 4.7" fill="none"/>
<text x="515.30" y="135.40">Δ</text>
<text x="528.60" y="135.40">M</text>
<text x="547.50" y="139.40" font-size="14.2">bd</text>
<text transform="translate(562.50 130.10) scale(1 0.9)" x="0" y="5.3">(</text>
<text x="569.90" y="135.40" font-style="italic" font-size="19.3">V</text>
<text x="582.40" y="139.00" font-style="italic" font-size="16.8">η</text>
<text x="590.00" y="139.40" font-size="14.0">1</text>
<text transform="translate(598.20 135.40) scale(1.11 0.9)" x="0" y="1.1" stroke="#000" stroke-width="0.45">=</text>
<text x="611.90" y="135.40" font-style="italic" font-size="19.3">U</text>
<text x="626.10" y="139.00" font-style="italic" font-size="16.8">η</text>
<text x="633.90" y="139.40" font-size="14.0">1</text>
<text transform="translate(643.20 135.40) scale(1.11 0.9)" x="0" y="1.1" stroke="#000" stroke-width="0.45">=</text>
<text x="655.70" y="135.40">0.</text>
<text x="671.20" y="135.40">2</text>
<text transform="translate(681.50 130.10) scale(1 0.9)" x="0" y="5.3">)</text>
<path d="M462.2 191.8 H509.3" stroke="#0000ff" stroke-width="1.5" stroke-dasharray="10.4 8.1" fill="none"/>
<text x="515.30" y="190.40">Δ</text>
<text x="528.60" y="190.40">M</text>
<text x="547.50" y="194.40" font-size="14.2">bd</text>
<text transform="translate(562.50 185.10) scale(1 0.9)" x="0" y="5.3">(</text>
<text x="569.90" y="190.40" font-style="italic" font-size="19.3">V</text>
<text x="582.40" y="194.00" font-style="italic" font-size="16.8">η</text>
<text x="590.00" y="194.40" font-size="14.0">1</text>
<text transform="translate(598.20 190.40) scale(1.11 0.9)" x="0" y="1.1" stroke="#000" stroke-width="0.45">=</text>
<text x="611.90" y="190.40" font-style="italic" font-size="19.3">U</text>
<text x="626.10" y="194.00" font-style="italic" font-size="16.8">η</text>
<text x="633.90" y="194.40" font-size="14.0">1</text>
<text transform="translate(643.20 190.40) scale(1.11 0.9)" x="0" y="1.1" stroke="#000" stroke-width="0.45">=</text>
<text x="655.70" y="190.40">0.</text>
<text x="671.20" y="190.40">1</text>
<text transform="translate(681.50 185.10) scale(1 0.9)" x="0" y="5.3">)</text>
<path d="M461.9 243.45 H509.3" stroke="#00ff00" stroke-width="1.3" fill="none"/>
<text x="515.30" y="246.30">Δ</text>
<text x="528.60" y="246.30">M</text>
<text x="547.50" y="250.30" font-size="14.2">bd</text>
<text transform="translate(562.50 241.00) scale(1 0.9)" x="0" y="5.3">(</text>
<text x="569.90" y="246.30" font-style="italic" font-size="19.3">V</text>
<text x="582.40" y="249.90" font-style="italic" font-size="16.8">η</text>
<text x="590.00" y="250.30" font-size="14.0">1</text>
<text transform="translate(598.20 246.30) scale(1.11 0.9)" x="0" y="1.1" stroke="#000" stroke-width="0.45">=</text>
<text x="611.90" y="246.30" font-style="italic" font-size="19.3">U</text>
<text x="626.10" y="249.90" font-style="italic" font-size="16.8">η</text>
<text x="633.90" y="250.30" font-size="14.0">1</text>
<text transform="translate(643.20 246.30) scale(1.11 0.9)" x="0" y="1.1" stroke="#000" stroke-width="0.45">=</text>
<text transform="translate(656.80 247.40) scale(1.02 1)" x="0" y="0" stroke="#000" stroke-width="0.45">−</text>
<text x="674.20" y="246.30">0.</text>
<text x="689.90" y="246.30">2</text>
<text transform="translate(700.60 241.00) scale(1 0.9)" x="0" y="5.3">)</text>
<path d="M461.9 303.2 H509.3" stroke="#000000" stroke-width="4.9" stroke-dasharray="13.8 4.7" fill="none"/>
<text x="515.30" y="301.35">Δ</text>
<text x="528.60" y="301.35">M</text>
<text x="547.50" y="305.35" font-size="14.2">bd</text>
<text transform="translate(562.50 296.05) scale(1 0.9)" x="0" y="5.3">(</text>
<text x="569.90" y="301.35" font-style="italic" font-size="19.3">V</text>
<text x="582.40" y="304.95" font-style="italic" font-size="16.8">η</text>
<text x="590.00" y="305.35" font-size="14.0">1</text>
<text transform="translate(598.20 301.35) scale(1.11 0.9)" x="0" y="1.1" stroke="#000" stroke-width="0.45">=</text>
<text x="611.90" y="301.35" font-style="italic" font-size="19.3">U</text>
<text x="626.10" y="304.95" font-style="italic" font-size="16.8">η</text>
<text x="633.90" y="305.35" font-size="14.0">1</text>
<text transform="translate(643.20 301.35) scale(1.11 0.9)" x="0" y="1.1" stroke="#000" stroke-width="0.45">=</text>
<text transform="translate(656.80 302.45) scale(1.02 1)" x="0" y="0" stroke="#000" stroke-width="0.45">−</text>
<text x="669.00" y="301.35">0.</text>
<text x="685.00" y="301.35">1</text>
<text transform="translate(694.90 296.05) scale(1 0.9)" x="0" y="5.3">)</text>
</g>
</svg>
</body></html>
